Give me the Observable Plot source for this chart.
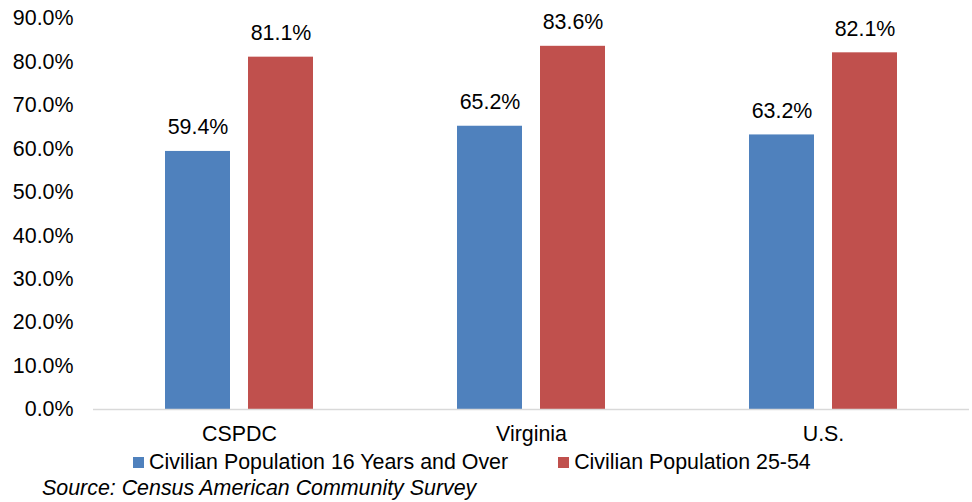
<!DOCTYPE html>
<html>
<head>
<meta charset="utf-8">
<script src="https://cdn.jsdelivr.net/npm/d3@7"></script>
<script src="https://cdn.jsdelivr.net/npm/@observablehq/plot@0.6"></script>
<style>
  html, body { margin: 0; padding: 0; background: #fff; }
  body { width: 972px; height: 502px; overflow: hidden; font-family: Arial, "Liberation Sans", sans-serif; color: #000; }
  #chart svg { display: block; }
  .legend { display: flex; align-items: center; height: 24px; margin-left: 133px; font-size: 21.4px; line-height: 24px; }
  .legend .item { display: flex; align-items: center; }
  .legend .item + .item { margin-left: 50px; }
  .legend .swatch { width: 11px; height: 11px; margin-right: 5px; }
  .source { margin-left: 42px; height: 28px; line-height: 28px; font-size: 21.4px; font-style: italic; }
</style>
</head>
<body>
<div id="chart"></div>
<div class="legend" id="legend"></div>
<div class="source" id="source"></div>
<script>
// Labor force participation rates (%) by region
const regions = ["CSPDC", "Virginia", "U.S."];
const seriesNames = ["Civilian Population 16 Years and Over", "Civilian Population 25-54"];
const rate16Plus = [59.4, 65.2, 63.2];
const rate25to54 = [81.1, 83.6, 82.1];
const seriesColors = ["#4F81BD", "#C0504D"];
const yTicks = [0, 10, 20, 30, 40, 50, 60, 70, 80, 90];
const sourceNote = "Source: Census American Community Survey";

const rows = regions.flatMap((region, i) => [
  {region, series: seriesNames[0], value: rate16Plus[i]},
  {region, series: seriesNames[1], value: rate25to54[i]}
]);

const pct = d => d.toFixed(1) + "%";

const chart = Plot.plot({
  width: 972,
  height: 450,
  marginTop: 18,
  marginBottom: 41,
  marginLeft: 93,
  marginRight: 3,
  style: {
    fontSize: "21.4px",
    fontFamily: "Arial, 'Liberation Sans', sans-serif",
    color: "#000",
    background: "#fff",
    overflow: "visible"
  },
  fx: {domain: regions, padding: 0, round: false},
  x: {domain: seriesNames, paddingInner: 18 / 83, paddingOuter: 0.8675, round: false, axis: null},
  y: {domain: [0, 90]},
  color: {domain: seriesNames, range: seriesColors},
  marks: [
    Plot.barY(rows, {fx: "region", x: "series", y: "value", fill: "series"}),
    Plot.ruleY([0], {stroke: "#d9d9d9", strokeWidth: 1.5}),
    Plot.text(rows, {fx: "region", x: "series", y: "value", text: d => pct(d.value), dy: -24, fill: "#000"}),
    Plot.axisY({ticks: yTicks, tickFormat: pct, tickSize: 0, tickPadding: 20, label: null}),
    Plot.axisFx({anchor: "bottom", tickSize: 0, tickPadding: 25, lineAnchor: "middle", label: null})
  ]
});
document.getElementById("chart").append(chart);

// Legend below the chart
const legend = document.getElementById("legend");
seriesNames.forEach((name, i) => {
  const item = document.createElement("div");
  item.className = "item";
  const sw = document.createElement("span");
  sw.className = "swatch";
  sw.style.background = seriesColors[i];
  const label = document.createElement("span");
  label.textContent = name;
  item.append(sw, label);
  legend.append(item);
});

document.getElementById("source").textContent = sourceNote;
</script>
</body>
</html>
